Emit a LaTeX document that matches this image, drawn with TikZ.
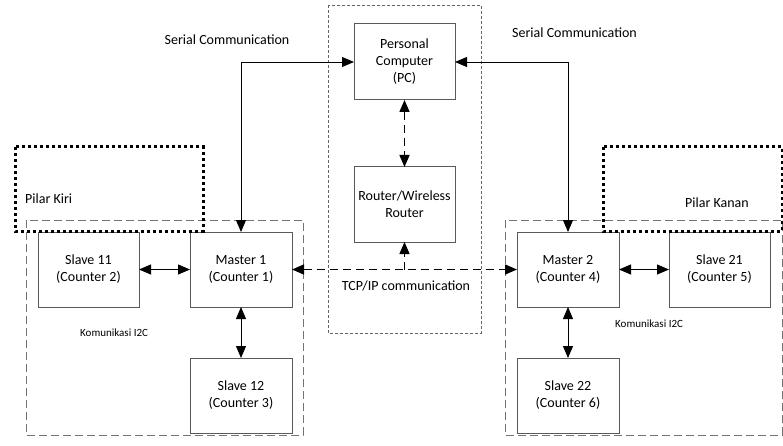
\documentclass[tikz,border=0pt]{standalone}
\usepackage{fontspec}
\setmainfont{Carlito}
\usetikzlibrary{arrows.meta}
\begin{document}
\begin{tikzpicture}[x=1pt,y=-1pt,
  box/.style={draw=black!65,line width=1pt,minimum width=101pt,minimum height=75pt,inner sep=2pt,outer sep=0pt,align=center,font=\fontsize{14}{17}\selectfont},
  lbl/.style={font=\fontsize{14}{17}\selectfont,inner sep=0pt},
  small/.style={font=\fontsize{11}{13}\selectfont,inner sep=0pt},
  conn/.style={line width=0.9pt,{Triangle[length=12pt,width=10pt]}-{Triangle[length=12pt,width=10pt]}},
  oneway/.style={line width=0.9pt,-{Triangle[length=12pt,width=10pt]}},
  dsh/.style={line width=1.5pt,dash pattern=on 8pt off 5pt},
  cont/.style={draw=black!55,line width=0.8pt,dash pattern=on 8pt off 4pt},
  contc/.style={draw=black!60,line width=0.7pt,dash pattern=on 3pt off 2pt},
  pilar/.style={draw=black,line width=3pt,dash pattern=on 3pt off 3pt}]
\useasboundingbox (0,0) rectangle (783,446);
% containers
\draw[cont] (26,220) rectangle (303,435);
\draw[cont] (505,220) rectangle (782,435);
\draw[contc] (328,5) rectangle (481,333);
% nodes
\node[box] (s11) at (88.5,269.5) {Slave 11\\(Counter 2)};
\node[box,minimum width=102pt] (m1) at (241,269.5) {Master 1\\(Counter 1)};
\node[box,minimum width=102pt] (s12) at (241,395.5) {Slave 12\\(Counter 3)};
\node[box,minimum height=76pt] (pc) at (404.5,62) {Personal\\Computer\\(PC)};
\node[box] (rt) at (404.5,204.5) {Router/Wireless\\Router};
\node[box,minimum width=102pt] (m2) at (568,269.5) {Master 2\\(Counter 4)};
\node[box] (s21) at (719.5,269.5) {Slave 21\\(Counter 5)};
\node[box,minimum width=102pt] (s22) at (568,395.5) {Slave 22\\(Counter 6)};
% pilar regions
\draw[pilar] (15,147) rectangle (203,231);
\draw[pilar] (603,147) rectangle (782,231);
% labels
\node[lbl] (ser1) at (227,40) {Serial Communication};
\node[lbl] (ser2) at (574.5,33) {Serial Communication};
\node[lbl,anchor=west] (pk) at (25,199) {Pilar Kiri};
\node[lbl] (pn) at (717,203) {Pilar Kanan};
\node[small,anchor=west] (k1) at (80,333) {Komunikasi I2C};
\node[small,anchor=west] (k2) at (615,324) {Komunikasi I2C};
\node[lbl] (tcp) at (406,286) {TCP/IP communication};
% connectors
\draw[conn] (pc.west) -| (m1.north);
\draw[conn] (pc.east) -| (m2.north);
\draw[conn,dsh] (pc.south) -- (rt.north);
\draw[conn,dsh] (m1.east) -- (m2.west);
\coordinate (tj) at (404.5,270);
\draw[oneway,dsh] (tj) -- (rt.south);
\draw[conn] (s11.east) -- (m1.west);
\draw[conn] (m1.south) -- (s12.north);
\draw[conn] (m2.east) -- (s21.west);
\draw[conn] (m2.south) -- (s22.north);
\end{tikzpicture}
\end{document}
